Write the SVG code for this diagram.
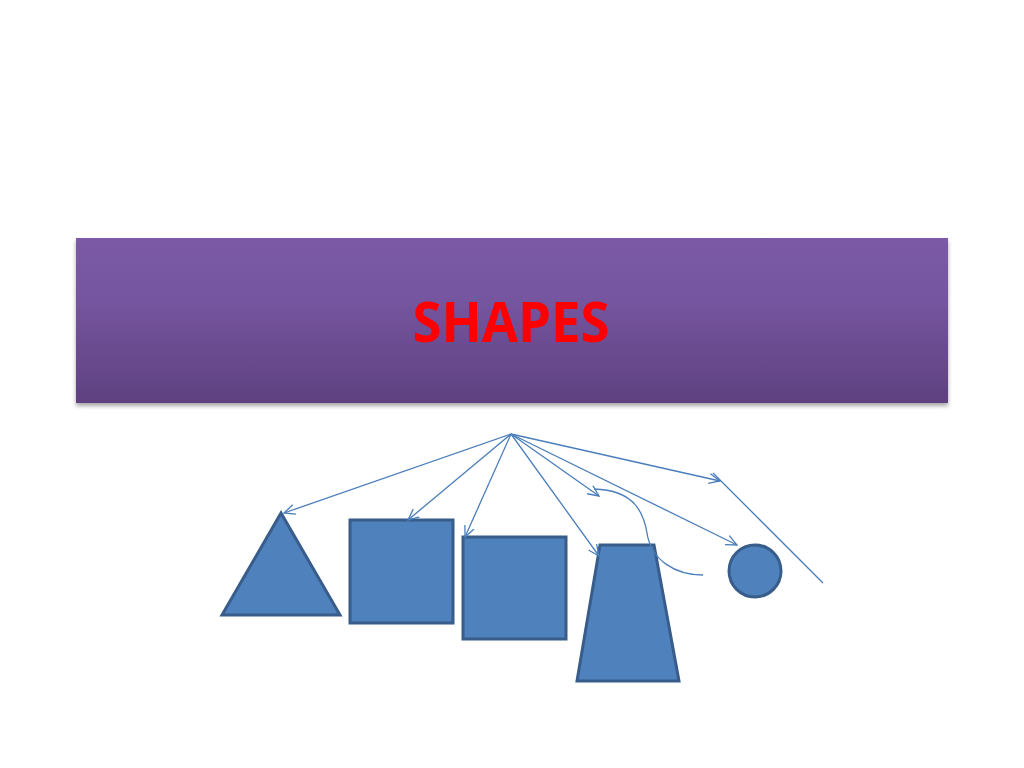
<svg xmlns="http://www.w3.org/2000/svg" width="1024" height="768" viewBox="0 0 1024 768">
<defs>
<linearGradient id="bg" x1="0" y1="0" x2="0" y2="1">
<stop offset="0" stop-color="#7B5AA6"/>
<stop offset="0.35" stop-color="#7656A0"/>
<stop offset="1" stop-color="#5E4180"/>
</linearGradient>
<filter id="sh" x="-5%" y="-10%" width="110%" height="130%">
<feGaussianBlur in="SourceAlpha" stdDeviation="2"/>
<feOffset dy="3" result="b"/>
<feComponentTransfer><feFuncA type="linear" slope="0.35"/></feComponentTransfer>
<feMerge><feMergeNode/><feMergeNode in="SourceGraphic"/></feMerge>
</filter>
<marker id="arr" viewBox="0 0 12 12" refX="11" refY="6" markerWidth="12" markerHeight="12" markerUnits="userSpaceOnUse" orient="auto">
<path d="M0,1 L11,6 L0,11" fill="none" stroke="#4A7EBB" stroke-width="1.3"/>
</marker>
</defs>
<style>
.shape{fill:#4F81BD;stroke:#385D8A;stroke-width:3;stroke-linejoin:miter}
.conn{fill:none;stroke:#4A7EBB;stroke-width:1.3}
.title{font-family:"Open Sans","Liberation Sans",sans-serif;font-weight:bold;fill:#FF0000}
</style>
<rect width="1024" height="768" fill="#FFFFFF"/>
<g id="banner">
<rect x="76" y="238" width="872" height="165" fill="url(#bg)" filter="url(#sh)"/>
<text class="title" x="511" y="342" font-size="56" text-anchor="middle" textLength="197" lengthAdjust="spacingAndGlyphs">SHAPES</text>
</g>
<g id="triangle"><polygon class="shape" points="281,513 222,615 340,615"/></g>
<g id="square1"><rect class="shape" x="350" y="520" width="103" height="103"/></g>
<g id="square2"><rect class="shape" x="463" y="537" width="103" height="102"/></g>
<g id="trapezoid"><polygon class="shape" points="600,545 654,545 679,681 577,681"/></g>
<g id="circle"><circle class="shape" cx="755" cy="571" r="26"/></g>
<g id="connectors">
<line class="conn" x1="511" y1="434" x2="284" y2="513" marker-end="url(#arr)"/>
<line class="conn" x1="511" y1="434" x2="408" y2="520" marker-end="url(#arr)"/>
<line class="conn" x1="511" y1="434" x2="465" y2="537" marker-end="url(#arr)"/>
<line class="conn" x1="511" y1="434" x2="599" y2="556" marker-end="url(#arr)"/>
<line class="conn" x1="511" y1="434" x2="599" y2="496" marker-end="url(#arr)"/>
<line class="conn" x1="511" y1="434" x2="737" y2="545" marker-end="url(#arr)"/>
<line class="conn" x1="511" y1="434" x2="720" y2="481" marker-end="url(#arr)"/>
<line class="conn" x1="713" y1="473" x2="823" y2="583" stroke-width="1"/>
<path class="conn" d="M594,489 C636,490 644,515 647,533 C651,560 675,575 703,575" stroke-width="1"/>
</g>
</svg>
